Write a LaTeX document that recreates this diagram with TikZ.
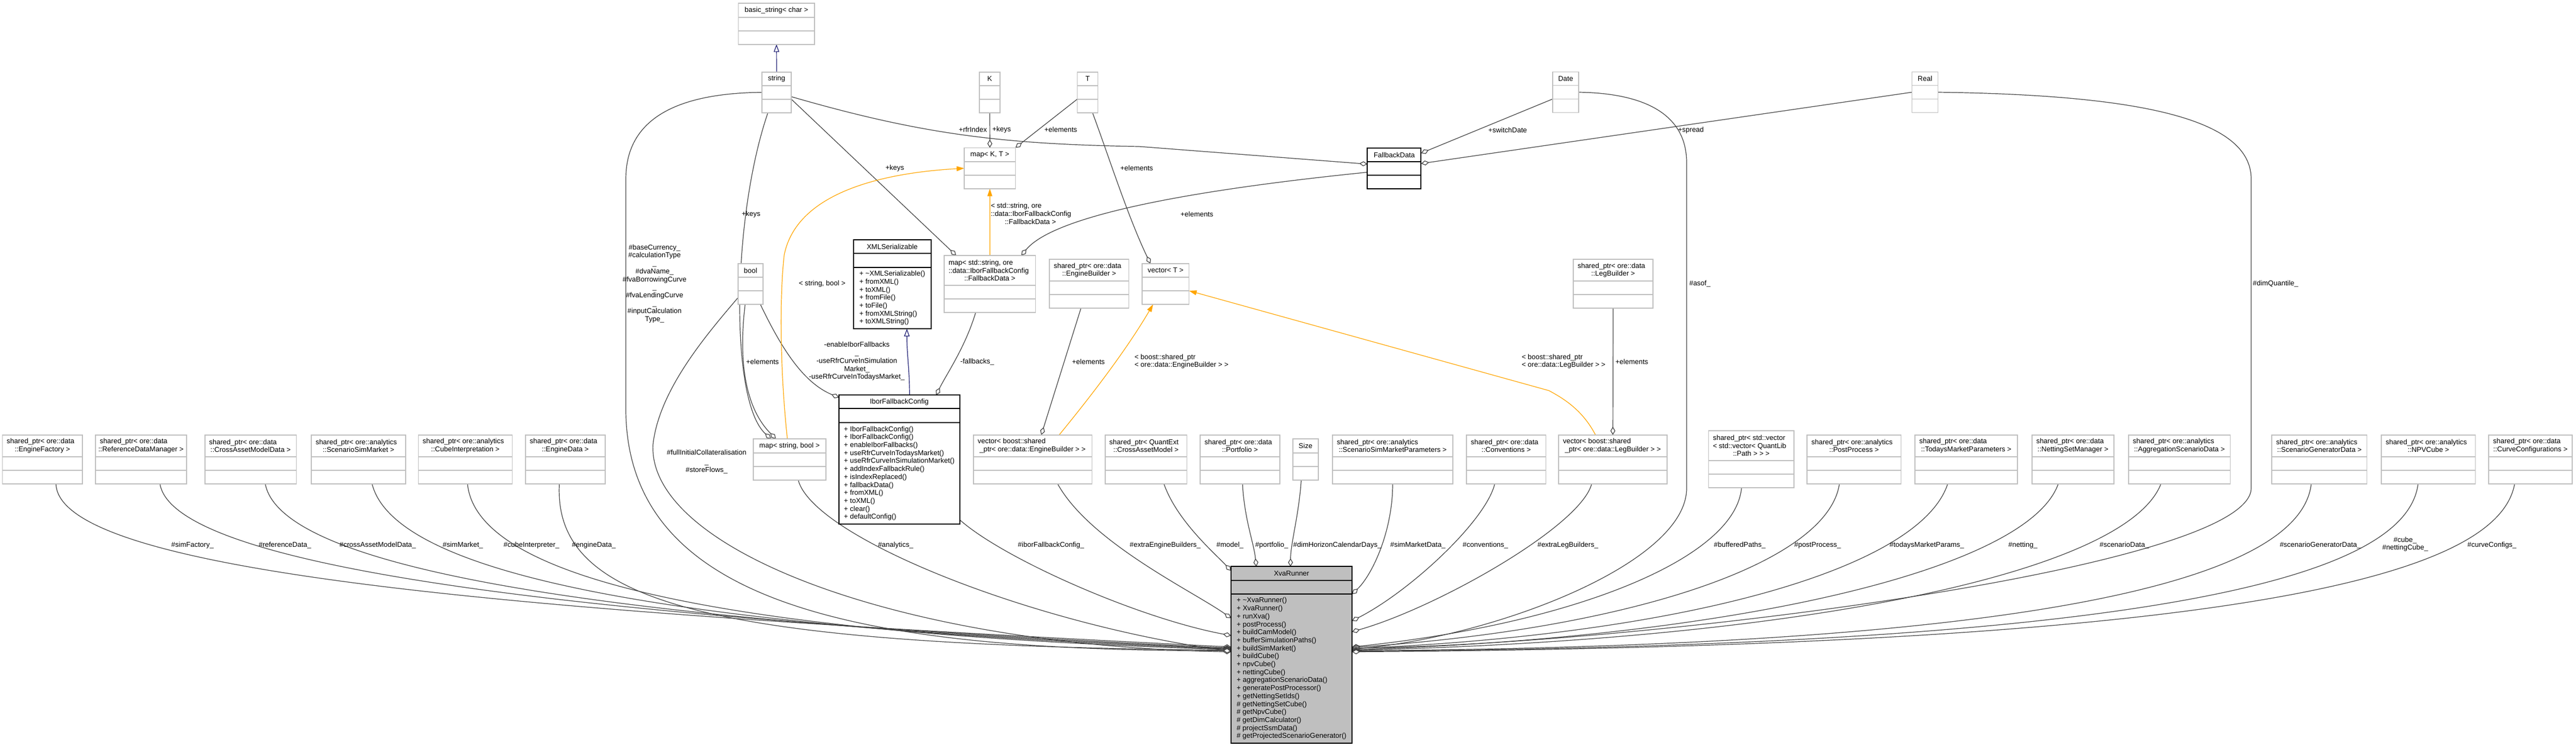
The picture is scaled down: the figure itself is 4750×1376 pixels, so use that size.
\documentclass[tikz,border=0pt]{standalone}
\usepackage{fontspec}
\setmainfont{Liberation Sans}
\usetikzlibrary{arrows.meta,backgrounds}
\definecolor{boxgray}{HTML}{BFBFBF}
\definecolor{edgegray}{HTML}{404040}
\definecolor{inhblue}{HTML}{191970}
\definecolor{tmplorange}{HTML}{FFA500}
\definecolor{xvafill}{HTML}{BFBFBF}
\newcommand{\lft}[1]{\mbox{#1}}
\newcommand{\ctr}[1]{\makebox[\hsize]{#1}}
% #1 name, #2 x, #3 y, #4 width, #5 header height, #6 style, #7 header text
\newcommand{\umlbox}[7]{%
  \node[#6, minimum width=#4pt, minimum height=#5pt, anchor=north west] (#1) at (#2,#3)
     {\parbox{\dimexpr#4pt-16pt\relax}{\raggedright #7}};
  \node[#6, minimum width=#4pt, minimum height=25pt, anchor=north west] (#1a) at (#1.south west) {};
  \node[#6, minimum width=#4pt, minimum height=25pt, anchor=north west] (#1b) at (#1a.south west) {};
}
\tikzset{
  gbox/.style={rectangle, draw=boxgray, line width=1.6pt, fill=white, inner xsep=8pt, inner ysep=1pt, outer sep=0pt},
  bbox/.style={gbox, draw=black, line width=2pt},
  xbox/.style={bbox, fill=xvafill},
  lbl/.style={inner sep=0pt, outer sep=0pt},
  agg/.style={draw=edgegray, line width=1.2pt, -{Diamond[fill=white,length=15pt,width=9pt]}},
  inh/.style={draw=inhblue, line width=1.2pt, -{Triangle[fill=white,length=14pt,width=10pt]}},
  tmpl/.style={draw=tmplorange, line width=1.2pt, -{Triangle[length=14pt,width=9pt]}},
}
\begin{document}
\begin{tikzpicture}[x=1pt,y=-1pt,font=\fontsize{13}{14.7}\selectfont]
\useasboundingbox (0,0) rectangle (4750,1376);

% ---------- top tier ----------
\umlbox{bstr}{1361.5}{5.7}{140.5}{26}{gbox}{\ctr{basic\_string< char >}}
\umlbox{str}{1405}{132.7}{54}{25}{gbox}{\ctr{string}}
\umlbox{K}{1806}{132.7}{38}{25}{gbox}{\ctr{K}}
\umlbox{T}{1986.5}{132.7}{38}{25}{gbox}{\ctr{T}}
\umlbox{date}{2863}{132.5}{48}{25}{gbox}{\ctr{Date}}
\umlbox{real}{3525.5}{132.5}{48}{25}{gbox}{\ctr{Real}}

\umlbox{mapkt}{1778}{272.3}{94.4}{25.4}{gbox}{\ctr{map< K, T >}}
\umlbox{fbd}{2521.4}{272.7}{99}{25.3}{bbox}{\ctr{FallbackData}}

% ---------- third tier ----------
\node[bbox, minimum width=142.5pt, minimum height=25.6pt, anchor=north west] (xml) at (1574,441.7)
  {\parbox{\dimexpr142.5pt-16pt\relax}{\ctr{XMLSerializable}}};
\node[bbox, minimum width=142.5pt, minimum height=25.4pt, anchor=north west] (xmla) at (xml.south west) {};
\node[bbox, minimum width=142.5pt, minimum height=113.3pt, anchor=north west, align=left] (xmlm) at (xmla.south west)
  {+ \textasciitilde XMLSerializable()\\+ fromXML()\\+ toXML()\\+ fromFile()\\+ toFile()\\+ fromXMLString()\\+ toXMLString()};

\umlbox{bool}{1361}{486}{46}{25}{gbox}{\ctr{bool}}
\umlbox{mapsfd}{1741}{471}{168.3}{54.7}{gbox}{\lft{map< std::string, ore}\\\lft{::data::IborFallbackConfig}\\\ctr{::FallbackData >}}
\umlbox{speb}{1935}{478}{146.5}{40}{gbox}{\lft{shared\_ptr< ore::data}\\\ctr{::EngineBuilder >}}
\umlbox{vect}{2106}{486}{86.6}{25}{gbox}{\ctr{vector< T >}}
\umlbox{splb}{2901}{478}{147}{40}{gbox}{\lft{shared\_ptr< ore::data}\\\ctr{::LegBuilder >}}

% ---------- fourth tier ----------
\umlbox{mapsb}{1389}{809}{133.7}{26}{gbox}{\ctr{map< string, bool >}}
\node[bbox, minimum width=222.5pt, minimum height=25pt, anchor=north west] (ibor) at (1547,728.3)
  {\parbox{\dimexpr222.5pt-16pt\relax}{\ctr{IborFallbackConfig}}};
\node[bbox, minimum width=222.5pt, minimum height=26pt, anchor=north west] (ibora) at (ibor.south west) {};
\node[bbox, minimum width=222.5pt, minimum height=186.7pt, anchor=north west, align=left] (iborm) at (ibora.south west)
  {+ IborFallbackConfig()\\+ IborFallbackConfig()\\+ enableIborFallbacks()\\+ useRfrCurveInTodaysMarket()\\+ useRfrCurveInSimulationMarket()\\+ addIndexFallbackRule()\\+ isIndexReplaced()\\+ fallbackData()\\+ fromXML()\\+ toXML()\\+ clear()\\+ defaultConfig()};

\umlbox{ef}{4.5}{801.7}{147.3}{40}{gbox}{\lft{shared\_ptr< ore::data}\\\ctr{::EngineFactory >}}
\umlbox{rdm}{176}{801.7}{167.8}{40}{gbox}{\lft{shared\_ptr< ore::data}\\\ctr{::ReferenceDataManager >}}
\umlbox{camd}{377.7}{801.7}{168.8}{40}{gbox}{\lft{shared\_ptr< ore::data}\\\ctr{::CrossAssetModelData >}}
\umlbox{ssm}{574}{801.7}{174}{40}{gbox}{\lft{shared\_ptr< ore::analytics}\\\ctr{::ScenarioSimMarket >}}
\umlbox{ci}{771.4}{801.7}{173.2}{40}{gbox}{\lft{shared\_ptr< ore::analytics}\\\ctr{::CubeInterpretation >}}
\umlbox{ed}{968.8}{801.7}{147.2}{40}{gbox}{\lft{shared\_ptr< ore::data}\\\ctr{::EngineData >}}
\umlbox{veceb}{1794.8}{801.7}{218.5}{40}{gbox}{\lft{vector< boost::shared}\\\ctr{\_ptr< ore::data::EngineBuilder > >}}
\umlbox{cam}{2037.7}{801.7}{150.8}{40}{gbox}{\lft{shared\_ptr< QuantExt}\\\ctr{::CrossAssetModel >}}
\umlbox{pf}{2213}{801.7}{147}{40}{gbox}{\lft{shared\_ptr< ore::data}\\\ctr{::Portfolio >}}
\umlbox{size}{2383.7}{808.7}{47.3}{26.3}{gbox}{\ctr{Size}}
\umlbox{ssmp}{2457}{801.7}{222}{40}{gbox}{\lft{shared\_ptr< ore::analytics}\\\ctr{::ScenarioSimMarketParameters >}}
\umlbox{conv}{2704}{801.7}{146.5}{40}{gbox}{\lft{shared\_ptr< ore::data}\\\ctr{::Conventions >}}
\umlbox{veclb}{2874}{801.7}{200}{40}{gbox}{\lft{vector< boost::shared}\\\ctr{\_ptr< ore::data::LegBuilder > >}}
\umlbox{bp}{3150.5}{794}{157.5}{55}{gbox}{\lft{shared\_ptr< std::vector}\\\lft{< std::vector< QuantLib}\\\ctr{::Path > > >}}
\umlbox{pp}{3332}{801.7}{173.5}{40}{gbox}{\lft{shared\_ptr< ore::analytics}\\\ctr{::PostProcess >}}
\umlbox{tmp}{3531}{801.7}{189}{40}{gbox}{\lft{shared\_ptr< ore::data}\\\ctr{::TodaysMarketParameters >}}
\umlbox{nsm}{3746.7}{801.7}{151.3}{40}{gbox}{\lft{shared\_ptr< ore::data}\\\ctr{::NettingSetManager >}}
\umlbox{asd}{3924.8}{801.7}{187.8}{40}{gbox}{\lft{shared\_ptr< ore::analytics}\\\ctr{::AggregationScenarioData >}}
\umlbox{sgd}{4189}{801.7}{175.6}{40}{gbox}{\lft{shared\_ptr< ore::analytics}\\\ctr{::ScenarioGeneratorData >}}
\umlbox{npv}{4391}{801.7}{173.6}{40}{gbox}{\lft{shared\_ptr< ore::analytics}\\\ctr{::NPVCube >}}
\umlbox{cc}{4589}{801.7}{153.7}{40}{gbox}{\lft{shared\_ptr< ore::data}\\\ctr{::CurveConfigurations >}}

% ---------- XvaRunner ----------
\node[xbox, minimum width=223pt, minimum height=25.7pt, anchor=north west] (xva) at (2270,1044.3)
  {\parbox{\dimexpr223pt-16pt\relax}{\ctr{XvaRunner}}};
\node[xbox, minimum width=223pt, minimum height=25.4pt, anchor=north west] (xvaa) at (xva.south west) {};
\node[xbox, minimum width=223pt, minimum height=274.3pt, anchor=north west, align=left, inner xsep=10pt] (xvam) at (xvaa.south west)
  {+ \textasciitilde XvaRunner()\\+ XvaRunner()\\+ runXva()\\+ postProcess()\\+ buildCamModel()\\+ bufferSimulationPaths()\\+ buildSimMarket()\\+ buildCube()\\+ npvCube()\\+ nettingCube()\\+ aggregationScenarioData()\\+ generatePostProcessor()\\+ getNettingSetIds()\\\# getNettingSetCube()\\\# getNpvCube()\\\# getDimCalculator()\\\# projectSsmData()\\\# getProjectedScenarioGenerator()};

% ---------- edges ----------
\begin{scope}[on background layer]
\draw[inh] (str.north) -- (bstrb.south);
\draw[agg] (Kb.south) -- (mapkt.north);
\draw[agg] (Tb.north west) -- (mapkt.north east);
\draw[agg] ([yshift=-8pt]stra.east) .. controls (1700,248) and (1850,266) .. (2100,270) -- ([yshift=8pt]fbda.west);
\draw[agg] ([xshift=-16pt]strb.south) .. controls (1350,400) and (1345,740) .. ([xshift=-34pt]mapsb.north);
\draw[agg] ([xshift=-10pt]boolb.south) .. controls (1362,660) and (1372,750) .. ([xshift=-25pt]mapsb.north);
\draw[agg] (strb.north east) -- ([xshift=-62pt]mapsfd.north);
\draw[agg] (stra.west) .. controls (1230,172) and (1154,230) .. (1154,330) -- (1154,760) .. controls (1160,1120) and (1600,1200) .. ([yshift=33pt]xvam.west);
\draw[agg] (boolb.west) .. controls (1300,620) and (1215,720) .. (1204,820) .. controls (1195,1010) and (1650,1190) .. ([yshift=31pt]xvam.west);
\draw[agg] ([xshift=18pt]boolb.south) .. controls (1440,640) and (1480,705) .. ([yshift=8pt]ibor.west);
\draw[inh] ([xshift=19pt]ibor.north) .. controls (1677,680) and (1672,650) .. ([xshift=27pt]xmlm.south);
\draw[agg] ([xshift=-26pt]mapsfdb.south) .. controls (1780,640) and (1745,690) .. ([xshift=68pt]ibor.north);
\draw[agg] ([yshift=-7pt]fbda.west) .. controls (2250,345) and (1950,390) .. ([xshift=58pt]mapsfd.north);
\draw[tmpl] (mapsfd.north) -- (mapktb.south);
\draw[tmpl] ([xshift=-4pt]mapsb.north) .. controls (1440,700) and (1436,560) .. (1446,470) .. controls (1470,350) and (1640,318) .. (mapkta.west);
\draw[agg] ([xshift=9pt]Tb.south) .. controls (2045,290) and (2080,400) .. ([xshift=-28pt]vect.north);
\draw[agg] ([xshift=-15pt]spebb.south) -- ([xshift=16pt]veceb.north);
\draw[tmpl] ([xshift=49pt]veceb.north) .. controls (2020,720) and (2080,640) .. ([xshift=-23pt]vectb.south);
\draw[tmpl] ([xshift=-32pt]veclb.north) .. controls (2920,760) and (2890,738) .. (2856,720) -- (vectb.north east);
\draw[agg] (splbb.south) -- (veclb.north);
\draw[agg] (datea.south west) -- ([yshift=3pt]fbd.east);
\draw[agg] (reala.west) -- ([yshift=9pt]fbda.east);
\draw[agg] (datea.east) .. controls (3040,172) and (3110,215) .. (3110,300) -- (3110,900) .. controls (3110,1040) and (2750,1175) .. ([yshift=36pt]xvam.east);
\draw[agg] (reala.east) .. controls (3950,175) and (4151,220) .. (4151,330) -- (4151,900) .. controls (4150,1050) and (3000,1190) .. ([yshift=38pt]xvam.east);
% bottom left fan
\draw[agg] ([xshift=25pt]efb.south) .. controls (108,1060) and (1000,1130) .. ([yshift=40pt]xvam.west);
\draw[agg] ([xshift=35pt]rdmb.south) .. controls (320,1050) and (1100,1140) .. ([yshift=38pt]xvam.west);
\draw[agg] ([xshift=27pt]camdb.south) .. controls (520,1060) and (1200,1150) .. ([yshift=37pt]xvam.west);
\draw[agg] ([xshift=25pt]ssmb.south) .. controls (730,1070) and (1300,1160) .. ([yshift=36pt]xvam.west);
\draw[agg] ([xshift=4pt]cib.south) .. controls (880,1080) and (1400,1170) .. ([yshift=35pt]xvam.west);
\draw[agg] ([xshift=-11pt]edb.south) .. controls (1020,1110) and (1300,1190) .. ([yshift=34pt]xvam.west);
\draw[agg] ([xshift=16pt]mapsbb.south) .. controls (1500,990) and (1900,1150) .. ([yshift=32pt]xvam.west);
\draw[agg] ([yshift=8pt]iborm.south east) .. controls (1850,1030) and (2100,1140) .. ([yshift=61pt]xvam.west);
\draw[agg] ([xshift=46pt]vecebb.south) .. controls (2010,1000) and (2200,1090) .. ([yshift=93pt]xvam.west);
\draw[agg] ([xshift=33pt]camb.south) .. controls (2170,960) and (2240,1020) .. ([yshift=5pt]xva.west);
\draw[agg] ([xshift=4.5pt]pfb.south) .. controls (2295,960) and (2312,1000) .. ([xshift=-65pt]xva.north);
\draw[agg] ([xshift=-8pt]sizeb.south) .. controls (2395,950) and (2380,1000) .. ([xshift=-2pt]xva.north);
% bottom right fan
\draw[agg] (ssmpb.south) .. controls (2568,980) and (2530,1060) .. (xvam.north east);
\draw[agg] ([xshift=-21pt]convb.south) .. controls (2740,960) and (2600,1090) .. ([yshift=88pt]xvam.east);
\draw[agg] ([xshift=-39pt]veclbb.south) .. controls (2915,970) and (2650,1120) .. ([yshift=68pt]xvam.east);
\draw[agg] ([xshift=-18pt]bpb.south) .. controls (3200,1030) and (2900,1150) .. ([yshift=40pt]xvam.east);
\draw[agg] ([xshift=-27pt]ppb.south) .. controls (3370,1040) and (3000,1160) .. ([yshift=39pt]xvam.east);
\draw[agg] ([xshift=-34pt]tmpb.south) .. controls (3540,1050) and (3100,1170) .. ([yshift=37pt]xvam.east);
\draw[agg] ([xshift=-27pt]nsmb.south) .. controls (3740,1050) and (3200,1175) .. ([yshift=35pt]xvam.east);
\draw[agg] ([xshift=-34pt]asdb.south) .. controls (3920,1060) and (3300,1180) .. ([yshift=34pt]xvam.east);
\draw[agg] ([xshift=-15pt]sgdb.south) .. controls (4245,1040) and (3900,1190) .. ([yshift=33pt]xvam.east);
\draw[agg] ([xshift=-19pt]npvb.south) .. controls (4440,1040) and (4100,1190) .. ([yshift=32pt]xvam.east);
\draw[agg] ([xshift=-29pt]ccb.south) .. controls (4610,1040) and (4250,1190) .. ([yshift=31pt]xvam.east);
\end{scope}

% ---------- edge labels ----------
\node[lbl] (l1) at (1794,239) {+rfrIndex};
\node[lbl] (l2) at (1847,239) {+keys};
\node[lbl] (l3) at (1956,239) {+elements};
\node[lbl] (l4) at (2096,310) {+elements};
\node[lbl] (l5) at (1650,310) {+keys};
\node[lbl] (l6) at (1385,395) {+keys};
\node[lbl] (l7) at (2207,395) {+elements};
\node[lbl] (l8) at (2780,240) {+switchDate};
\node[lbl] (l9) at (3118,240) {+spread};
\node[lbl, anchor=west] (l10) at (1827,394) {\parbox{146pt}{\raggedright\lft{< std::string, ore}\\\lft{::data::IborFallbackConfig}\\\ctr{::FallbackData >}}};
\node[lbl] (l11) at (1516,523) {< string, bool >};
\node[lbl, align=center] (l12) at (1207,523) {\#baseCurrency\_\\\#calculationType\\\_\\\#dvaName\_\\\#fvaBorrowingCurve\\\_\\\#fvaLendingCurve\\\_\\\#inputCalculation\\Type\_};
\node[lbl, align=center] (l13) at (1303,851) {\#fullInitialCollateralisation\\[3pt]\_\\\#storeFlows\_};
\node[lbl, align=center] (l14) at (1580,666) {-enableIborFallbacks\\\_\\-useRfrCurveInSimulation\\Market\_\\-useRfrCurveInTodaysMarket\_};
\node[lbl] (l15) at (1406,667) {+elements};
\node[lbl] (l16) at (1802,667) {-fallbacks\_};
\node[lbl] (l17) at (2007,667) {+elements};
\node[lbl, anchor=west, align=left] (l18) at (2092,666) {< boost::shared\_ptr\\< ore::data::EngineBuilder > >};
\node[lbl, anchor=west, align=left] (l19) at (2806,666) {< boost::shared\_ptr\\< ore::data::LegBuilder > >};
\node[lbl] (l20) at (3009,667) {+elements};
\node[lbl, anchor=west] (l21) at (3115,523) {\#asof\_};
\node[lbl, anchor=west] (l22) at (4154,523) {\#dimQuantile\_};
\node[lbl] (b1) at (355,1005) {\#simFactory\_};
\node[lbl] (b2) at (525.5,1005) {\#referenceData\_};
\node[lbl] (b3) at (696.5,1005) {\#crossAssetModelData\_};
\node[lbl] (b4) at (853.5,1005) {\#simMarket\_};
\node[lbl] (b5) at (980,1005) {\#cubeInterpreter\_};
\node[lbl] (b6) at (1095,1005) {\#engineData\_};
\node[lbl] (b7) at (1651.5,1005) {\#analytics\_};
\node[lbl] (b8) at (1938,1005) {\#iborFallbackConfig\_};
\node[lbl] (b9) at (2148.5,1005) {\#extraEngineBuilders\_};
\node[lbl] (b10) at (2268,1005) {\#model\_};
\node[lbl] (b11) at (2345,1005) {\#portfolio\_};
\node[lbl] (b12) at (2466,1005) {\#dimHorizonCalendarDays\_};
\node[lbl] (b13) at (2614.5,1005) {\#simMarketData\_};
\node[lbl] (b14) at (2739,1005) {\#conventions\_};
\node[lbl] (b15) at (2891,1005) {\#extraLegBuilders\_};
\node[lbl] (b16) at (3208,1005) {\#bufferedPaths\_};
\node[lbl] (b17) at (3351.5,1005) {\#postProcess\_};
\node[lbl] (b18) at (3553,1005) {\#todaysMarketParams\_};
\node[lbl] (b19) at (3730,1005) {\#netting\_};
\node[lbl] (b20) at (3917,1005) {\#scenarioData\_};
\node[lbl] (b21) at (4278.5,1005) {\#scenarioGeneratorData\_};
\node[lbl, align=center] (b22) at (4435,1003) {\#cube\_\\\#nettingCube\_};
\node[lbl] (b23) at (4595,1005) {\#curveConfigs\_};
\end{tikzpicture}
\end{document}
